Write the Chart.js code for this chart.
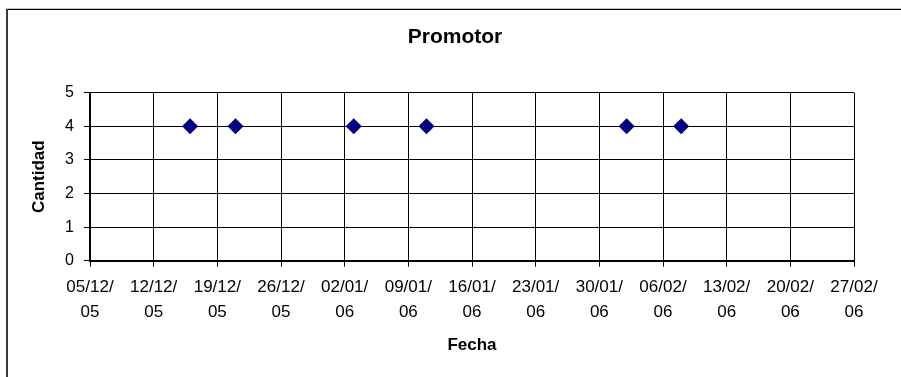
<!DOCTYPE html>
<html>
<head>
<meta charset="utf-8">
<title>Promotor</title>
<script src="https://cdn.jsdelivr.net/npm/chart.js@4/dist/chart.umd.min.js"></script>
<style>
  html, body { margin: 0; padding: 0; background: #fff; }
  #wrap { position: relative; width: 901px; height: 377px; }
  canvas { display: block; }
</style>
</head>
<body>
<div id="wrap"><canvas id="c" width="901" height="377"></canvas></div>
<script>
// Fechas registradas (dd/mm/aaaa) y cantidad correspondiente
const fechas = ['16/12/2005', '21/12/2005', '03/01/2006', '11/01/2006', '02/02/2006', '08/02/2006'];
const cantidades = [4, 4, 4, 4, 4, 4];

// Rango del eje de fechas y paso entre marcas (días)
const fechaInicio = '05/12/2005';
const fechaFin = '27/02/2006';
const pasoDias = 7;
const cantidadMax = 5;
const titulo = 'Promotor';

const DAY = 86400000;
function aDia(s) {
  const [d, m, y] = s.split('/').map(Number);
  return Date.UTC(y, m - 1, d) / DAY;
}
function etiquetaFecha(dia) {
  const f = new Date(Math.round(dia) * DAY);
  const dd = String(f.getUTCDate()).padStart(2, '0');
  const mm = String(f.getUTCMonth() + 1).padStart(2, '0');
  const yy = String(f.getUTCFullYear() % 100).padStart(2, '0');
  return [dd + '/' + mm + '/', yy];
}

const puntos = fechas.map((f, i) => ({ x: aDia(f), y: cantidades[i] }));

// Marco exterior y título centrado en el área del gráfico
const marco = {
  id: 'marco',
  afterDraw(chart) {
    const ctx = chart.ctx;
    ctx.save();
    ctx.fillStyle = '#c8c8c8';
    ctx.fillRect(6, 8, 901, 1);
    ctx.fillStyle = '#000';
    ctx.fillRect(6, 9, 901, 1);
    ctx.fillStyle = '#3a3a3a';
    ctx.fillRect(6, 9, 2, 377);

    ctx.fillStyle = '#000';
    ctx.font = 'bold 21px "Liberation Sans", Arial, sans-serif';
    ctx.textAlign = 'center';
    ctx.textBaseline = 'middle';
    ctx.fillText(titulo, 455, 37);
    ctx.restore();
  }
};

new Chart(document.getElementById('c'), {
  type: 'scatter',
  data: {
    datasets: [{
      label: titulo,
      data: puntos,
      pointStyle: 'rectRot',
      pointRadius: 8,
      pointHoverRadius: 8,
      pointBackgroundColor: '#000080',
      pointBorderColor: '#000080',
      pointBorderWidth: 0
    }]
  },
  options: {
    responsive: false,
    animation: false,
    events: [],
    layout: { padding: { left: 0, right: 47, top: 92.7, bottom: 0 } },
    plugins: {
      legend: { display: false },
      tooltip: { enabled: false },
      title: { display: false }
    },
    scales: {
      x: {
        type: 'linear',
        min: aDia(fechaInicio),
        max: aDia(fechaFin),
        afterFit(scale) { scale.height = 116.3; },
        ticks: {
          stepSize: pasoDias,
          autoSkip: false,
          maxRotation: 0,
          padding: 8,
          color: '#000',
          font: { family: '"Liberation Sans", Arial, sans-serif', size: 17, lineHeight: 1.47 },
          callback: (v) => etiquetaFecha(v)
        },
        grid: { color: '#000', lineWidth: 1, tickLength: 6, drawTicks: true },
        border: { color: '#000', width: 2 },
        title: {
          display: true,
          text: 'Fecha',
          color: '#000',
          font: { family: '"Liberation Sans", Arial, sans-serif', size: 17, weight: 'bold', lineHeight: 1.2 },
          padding: { top: 0, bottom: 21.5 }
        }
      },
      y: {
        min: 0,
        max: cantidadMax,
        afterFit(scale) { scale.width = 90; },
        ticks: {
          stepSize: 1,
          padding: 10,
          color: '#000',
          font: { family: '"Liberation Sans", Arial, sans-serif', size: 16 }
        },
        grid: { color: '#000', lineWidth: 1, tickLength: 6 },
        border: { color: '#000', width: 2 },
        title: {
          display: true,
          text: 'Cantidad',
          color: '#000',
          font: { family: '"Liberation Sans", Arial, sans-serif', size: 17, weight: 'bold', lineHeight: 1.2 },
          padding: { top: 29, bottom: 0 }
        }
      }
    }
  },
  plugins: [marco]
});
</script>
</body>
</html>
